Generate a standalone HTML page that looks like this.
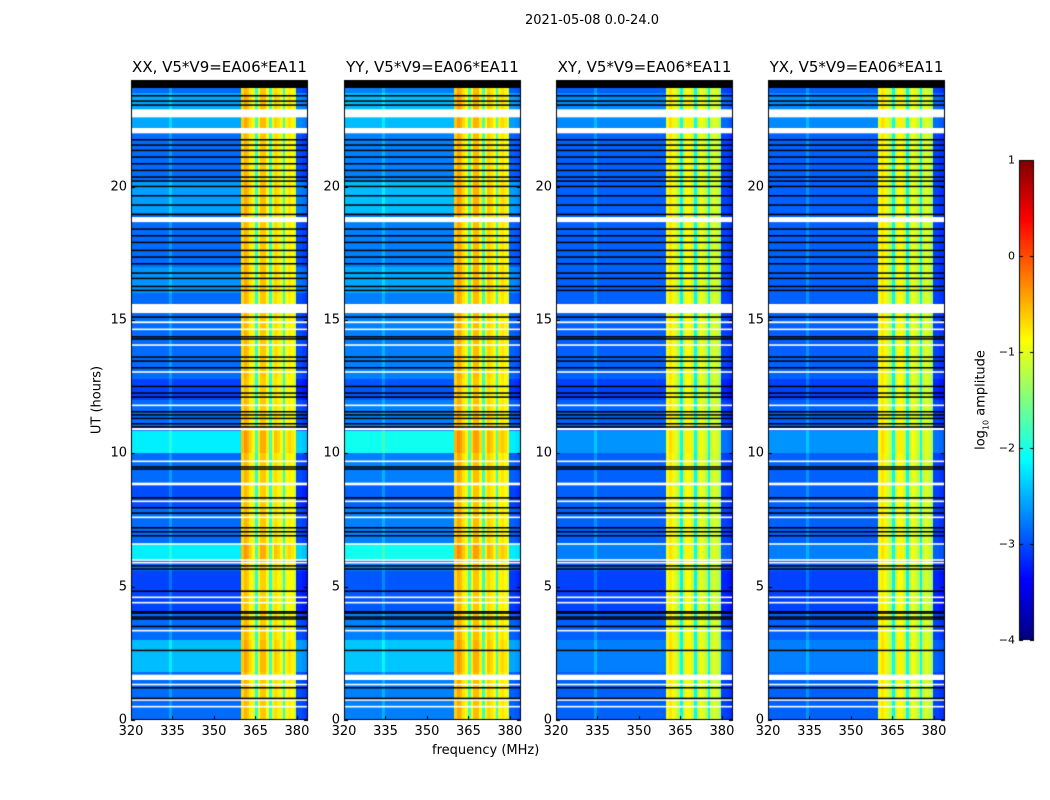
<!DOCTYPE html>
<html><head><meta charset="utf-8">
<style>
body{margin:0;background:#fff;width:1050px;height:800px;overflow:hidden;position:relative;font-family:"DejaVu Sans","Liberation Sans",sans-serif;color:#000}
.t{position:absolute;white-space:nowrap}
canvas{position:absolute;left:0;top:0}
</style></head><body>
<canvas id="cv" width="1050" height="800"></canvas>
<div class="t" style="left:525px;top:13px;font-size:13px">2021-05-08 0.0-24.0</div>
<div class="t" style="left:432px;top:743px;font-size:13px">frequency (MHz)</div>
<div class="t" style="left:97px;top:400px;font-size:13px;transform:translate(-50%,-50%) rotate(-90deg)">UT (hours)</div>
<div class="t" style="left:982px;top:400px;font-size:13px;transform:translate(-50%,-50%) rotate(-90deg)">log<sub style="font-size:8px">10</sub> amplitude</div>
<div id="labels"></div>
<script>
// ---- data ----
const panelTitles = ["XX, V5*V9=EA06*EA11","YY, V5*V9=EA06*EA11","XY, V5*V9=EA06*EA11","YX, V5*V9=EA06*EA11"];
const xTicks = [320,335,350,365,380];
const yTicks = [0,5,10,15,20];
const cbTicks = [1,0,-1,-2,-3,-4];
// frequency profile (log10 amp) per 1 MHz channel, 320..383
const freqProfile = [
-2.85,-2.85,-2.85,-2.85,-2.85,-2.85,-2.85,-2.85,-2.85,-2.85,
-2.85,-2.85,-2.85,-2.85,-2.6,-2.85,-2.85,-2.85,-2.85,-2.85,
-2.85,-2.85,-2.85,-2.85,-2.85,-2.85,-2.85,-2.85,-2.85,-2.85,
-2.85,-2.85,-2.85,-2.85,-2.85,-2.85,-2.85,-2.85,-2.85,-2.85,
-0.7,-0.5,-0.6,-0.8,-1.0,-1.9,-0.9,-0.6,-0.6,-0.9,
-1.9,-1.0,-0.7,-0.8,-1.0,-1.9,-0.9,-0.8,-0.9,-1.1,
-3.0,-3.0,-3.05,-3.1];
// per-panel level shift of band (inside 360-380) and background
const bandShift = [0,0.05,-0.25,-0.25];
const bgShift = [0,0.1,-0.05,-0.05];
// background brightening bands [startH,endH,offset] per panel
const brightBandsXX = [[22.0,23.5,0.3],[19.0,20.2,0.25],[10.0,10.85,0.65],[6.0,6.6,0.65],[1.8,3.0,0.4],[16.0,17.0,0.2],[12.0,12.8,-0.2],[4.0,5.6,-0.2],[8.0,8.8,-0.15]];
const brightBandsYY = [[22.0,23.5,0.3],[19.0,20.2,0.3],[10.0,10.85,0.7],[6.0,6.6,0.7],[1.8,3.0,0.35],[16.0,17.0,0.2],[12.0,12.8,-0.2],[4.0,5.6,-0.2],[8.0,8.8,-0.15]];
const brightBandsX = [[22.0,23.5,0.2],[10.0,10.85,0.25],[6.0,6.6,0.15],[1.8,3.0,0.15],[12.0,12.8,-0.15],[4.0,5.6,-0.15]];
const brightBands = [brightBandsXX,brightBandsYY,brightBandsX,brightBandsX];
// flagged (white) bands [startH,endH]
const whiteBands = [[22.6,22.9],[22.0,22.2],[18.67,18.86],[15.26,15.6],[14.88,14.95],[14.62,14.68],[14.03,14.09],[13.02,13.08],[11.77,11.83],[10.87,10.95],[9.67,9.73],[8.8,8.9],[8.17,8.23],[7.57,7.63],[6.57,6.63],[5.97,6.03],[5.87,5.93],[4.57,4.63],[4.37,4.43],[3.32,3.38],[1.5,1.7],[1.3,1.36],[0.72,0.78],[0.47,0.53]];
// black flag lines (hour)
const blackLines = [23.85,23.75,23.4,23.2,23.05,21.75,21.55,21.35,21.1,20.85,20.6,20.35,20.2,20.0,19.65,19.3,18.95,18.4,18.15,17.9,17.6,17.35,17.1,16.75,16.55,16.25,16.1,15.1,14.36,14.28,13.6,13.45,13.2,12.5,12.25,12.1,11.55,11.43,11.3,11.1,10.98,9.48,9.4,8.32,7.95,7.75,7.2,7.05,6.9,5.77,5.65,4.82,4.05,4.0,3.85,3.78,3.5,2.6,1.2,0.8];
// ---- layout ----
const panelX = [131,344,556,768], PW = 177, PT = 80, PB = 720;
const fMin = 320, fMax = 384, hMin = 0, hMax = 24;
const xs = (f,i)=>panelX[i] + (f-fMin)/(fMax-fMin)*PW;
const ys = h=>PB - (h-hMin)/(hMax-hMin)*(PB-PT);
const CB = {x:1019,w:15,top:160,bot:640,vmin:-4,vmax:1};
const cbY = v=>CB.bot - (v-CB.vmin)/(CB.vmax-CB.vmin)*(CB.bot-CB.top);
function jet(v){
  let t=(v-CB.vmin)/(CB.vmax-CB.vmin); t=Math.max(0,Math.min(1,t));
  const c=x=>Math.round(255*Math.max(0,Math.min(1,x)));
  const r=c(Math.min(4*t-1.5,-4*t+4.5)), g=c(Math.min(4*t-0.5,-4*t+3.5)), b=c(Math.min(4*t+0.5,-4*t+2.5));
  return `rgb(${r},${g},${b})`;
}
const cv=document.getElementById('cv'), ctx=cv.getContext('2d');
const lab=document.getElementById('labels');
function label(txt,x,y,align,name,size){
  const d=document.createElement('div'); d.className='t'; d.textContent=txt;
  
  
  d.style.fontSize=(size||13)+'px';
  d.style.left=x+'px'; d.style.top=y+'px';
  d.style.transform = align==='c'?'translate(-50%,0)':align==='r'?'translate(-100%,-50%)':'';
  lab.appendChild(d);
}
panelX.forEach((px,i)=>{
  const dh=(hMax-hMin)/(PB-PT);
  for(let yy=PT; yy<PB; yy++){
    const h=hMax-(yy-PT+0.5)*dh;
    let off=0;
    brightBands[i].forEach(b=>{ if(h>=b[0]&&h<b[1]) off+=b[2]; });
    for(let k=0;k<freqProfile.length;k++){
      const f=fMin+k;
      const inBand=f>=360&&f<380;
      let v=freqProfile[k]+(inBand?bandShift[i]+off*0.2:bgShift[i]+off);
      ctx.fillStyle=jet(v);
      const x0=Math.floor(xs(f,i)), x1=Math.floor(xs(f+1,i));
      ctx.fillRect(x0,yy,x1-x0,1);
    }
  }
  ctx.fillStyle='#fff';
  whiteBands.forEach(b=>{ const y0=ys(b[1]), y1=ys(b[0]); ctx.fillRect(px,y0,PW,Math.max(1.5,y1-y0)); });
  ctx.fillStyle='#000';
  blackLines.forEach(h=>{ ctx.fillRect(px,ys(h)-1,PW,1.5); });
  ctx.fillRect(px,PT,PW,ys(23.7)-PT);
  ctx.strokeStyle='#000'; ctx.lineWidth=1;
  ctx.strokeRect(px+0.5,PT+0.5,PW-1,PB-PT-1);
  ctx.beginPath();
  xTicks.forEach(f=>{const x=Math.round(xs(f,i))+0.5; ctx.moveTo(x,PB);ctx.lineTo(x,PB-4);ctx.moveTo(x,PT);ctx.lineTo(x,PT+4);
    label(String(f),xs(f,i),724,'c','x-tick-label');});
  yTicks.forEach(h=>{const y=Math.round(ys(h))+0.5; ctx.moveTo(px,y);ctx.lineTo(px+4,y);ctx.moveTo(px+PW,y);ctx.lineTo(px+PW-4,y);
    label(String(h),px-4,ys(h),'r','y-tick-label');});
  ctx.stroke();
  label(panelTitles[i],px+PW/2,58,'c','panel-title',15);
});
for(let y=CB.top;y<CB.bot;y++){ ctx.fillStyle=jet(CB.vmax-(y-CB.top+0.5)/(CB.bot-CB.top)*(CB.vmax-CB.vmin)); ctx.fillRect(CB.x,y,CB.w,1); }
ctx.strokeRect(CB.x+0.5,CB.top+0.5,CB.w-1,CB.bot-CB.top-1);
ctx.beginPath();
cbTicks.forEach(v=>{const y=Math.round(cbY(v))+0.5; ctx.moveTo(CB.x,y);ctx.lineTo(CB.x+4,y);ctx.moveTo(CB.x+CB.w,y);ctx.lineTo(CB.x+CB.w-4,y);
  label(v<0?'\u2212'+(-v):String(v),CB.x-4,cbY(v),'r','colorbar-tick-label',11);});
ctx.stroke();
</script>
</body></html>
